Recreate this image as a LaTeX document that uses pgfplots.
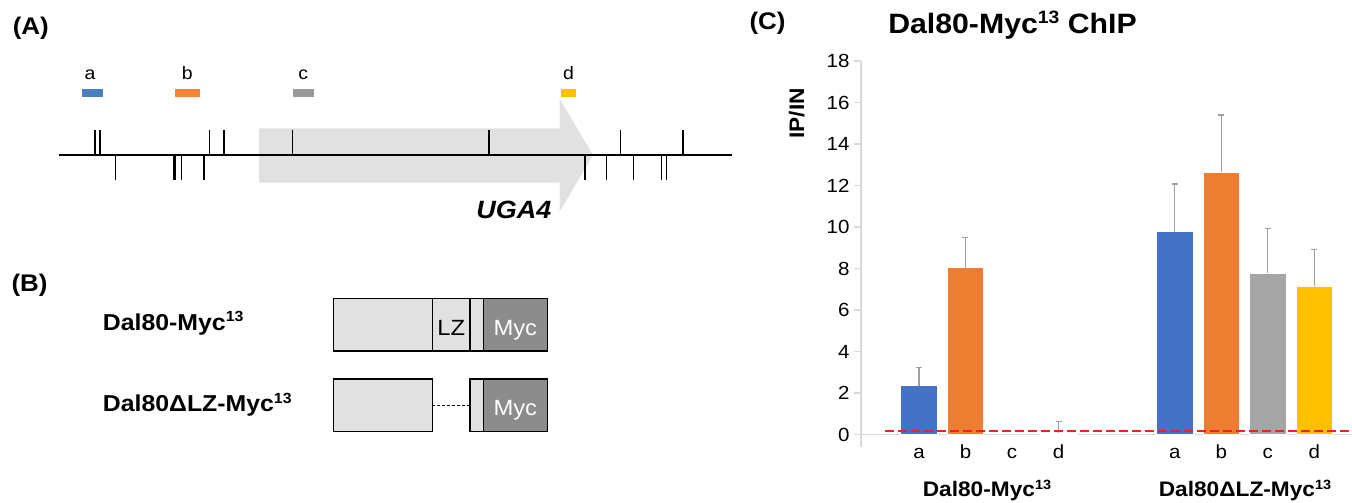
\documentclass[border=0pt]{standalone}
\usepackage{pgfplots}
\pgfplotsset{compat=1.18}
\usepackage{fontspec}
\setmainfont[FakeStretch=1.08]{Liberation Sans}
\definecolor{cblue}{HTML}{4472C4}
\definecolor{corange}{HTML}{ED7D31}
\definecolor{cgray}{HTML}{A5A5A5}
\definecolor{cyellow}{HTML}{FFC000}
\definecolor{mblue}{HTML}{4A7EBF}
\definecolor{morange}{HTML}{F5853A}
\definecolor{mgray}{HTML}{999999}
\definecolor{axgray}{HTML}{D9D9D9}
\definecolor{errgray}{HTML}{A0A0A0}
\definecolor{boxgray}{HTML}{E1E1E1}
\definecolor{mycgray}{HTML}{8C8C8C}
\definecolor{redline}{HTML}{F02020}
\newcommand{\fs}[1]{\fontsize{#1}{#1}\selectfont}
\newcommand{\sups}[1]{\raisebox{0.36em}{\scalebox{0.64}{#1}}}
\pgfplotsset{
  mybar/.style={ybar, bar width=36.5pt, bar shift=0pt, draw=white, line width=0.5pt,
    error bars/.cd, y dir=plus, y explicit,
    error bar style={draw=errgray, line width=1.4pt},
    error mark=-,
    error mark options={draw=errgray, line width=1.4pt, mark size=3pt, rotate=90}},
}
\begin{document}
\begin{tikzpicture}
\useasboundingbox (0,0) rectangle (1352pt,503pt);
% ---------- canvas for panels A, B and texts (pixel coordinates, y downwards)
\begin{axis}[at={(0pt,0pt)}, anchor=south west, scale only axis,
  width=1352pt, height=503pt, xmin=0, xmax=1352, ymin=0, ymax=503,
  y dir=reverse, hide axis, clip=false]
% Panel A
\node[font={\fs{24}\bfseries}] at (30.8,28) {(A)};
\fill[boxgray] (259,128.3) -- (559.7,128.3) -- (559.7,99) -- (593,155) -- (559.7,211.7) -- (559.7,182.7) -- (259,182.7) -- cycle;
\draw[line width=1.6pt] (59,155) -- (731.8,155);
\pgfplotsinvokeforeach{95,100,209.3,224,292.3,489,620.4,683}{\draw[line width=1.2pt] (#1,130) -- (#1,155);}
\pgfplotsinvokeforeach{115.3,181.3,204,585,606.5,633.8,661.5,666.3}{\draw[line width=1.2pt] (#1,155) -- (#1,180);}
\draw[line width=3.3pt] (174.4,155) -- (174.4,180);
\fill[mblue] (81.7,89.3) rectangle (102.7,97.3);
\fill[morange] (175,89.3) rectangle (200,97.3);
\fill[mgray] (292.7,89.3) rectangle (314,97.3);
\fill[cyellow] (560.6,89.3) rectangle (576.4,97.3);
\node[anchor=base, font=\fs{18}] at (90,80) {a};
\node[anchor=base, font=\fs{18}] at (187.3,80) {b};
\node[anchor=base, font=\fs{18}] at (303.3,80) {c};
\node[anchor=base, font=\fs{18}] at (568.4,80) {d};
\node[anchor=base, font={\fs{25}\bfseries\itshape}] at (514,218) {UGA4};
% Panel B
\node[font={\fs{24}\bfseries}] at (29.6,285) {(B)};
\node[anchor=base west, inner sep=0pt, font={\fs{23}\bfseries}] at (102.7,330) {Dal80-Myc\sups{13}};
\node[anchor=base west, inner sep=0pt, font={\fs{23}\bfseries}] at (102.7,411.7) {Dal80ΔLZ-Myc\sups{13}};
\draw[line width=1.5pt, fill=boxgray] (333.3,298.3) rectangle (432.3,351);
\draw[line width=1.5pt, fill=boxgray] (432.3,298.3) rectangle (470,351);
\draw[line width=1.5pt, fill=boxgray] (470,298.3) rectangle (483.3,351);
\draw[line width=1.5pt, fill=mycgray] (483.3,298.3) rectangle (547.3,351);
\node[anchor=base, font=\fs{22}] at (451.2,335) {LZ};
\node[anchor=base, font=\fs{22}, text=white] at (515.3,335) {Myc};
\draw[line width=1.5pt, fill=boxgray] (333.3,379) rectangle (432.3,431.7);
\draw[line width=1.2pt, dash pattern=on 3pt off 2pt] (432.3,405.4) -- (470,405.4);
\draw[line width=1.5pt, fill=boxgray] (470,379) rectangle (483.3,431.7);
\draw[line width=1.5pt, fill=mycgray] (483.3,379) rectangle (547.3,431.7);
\node[anchor=base, font=\fs{22}, text=white] at (515.3,415.7) {Myc};
% Panel C texts
\node[font={\fs{24}\bfseries}] at (767.5,23.3) {(C)};
\node[anchor=base, font={\fs{28}\bfseries}] at (1012.5,33.3) {Dal80-Myc\sups{13} ChIP};
\node[rotate=90, font={\fs{21}\bfseries}] at (796.7,113.3) {IP/IN};
\node[anchor=base, font={\fs{21}\bfseries}] at (987,496.7) {Dal80-Myc\sups{13}};
\node[anchor=base, font={\fs{21}\bfseries}] at (1245,496.7) {Dal80ΔLZ-Myc\sups{13}};
\end{axis}
% ---------- chart
\begin{axis}[at={(861pt,56.3pt)}, anchor=south west, scale only axis,
  width=491pt, height=385.5pt,
  xmin=-1.247, xmax=9.312, ymin=-0.58, ymax=18,
  axis x line=middle, axis y line=left,
  hide obscured x ticks=false, hide obscured y ticks=false,
  axis line style={draw=axgray, line width=1.5pt, -},
  ytick={0,2,...,18},
  xtick={0,1,2,3,5.5,6.5,7.5,8.5}, xticklabels={a,b,c,d,a,b,c,d},
  tick align=outside, major tick length=7pt,
  ytick style={draw=axgray, line width=1.5pt},
  xtick style={draw=none},
  yticklabel style={font=\fs{19}, xshift=-1pt},
  xticklabel style={font=\fs{19}, anchor=base, yshift=-17pt},
  /pgf/number format/assume math mode=true,
  clip=false]
\addplot[fill=cblue, mybar] coordinates {(0,2.36) +- (0,0.89) (5.5,9.78) +- (0,2.30)};
\addplot[fill=corange, mybar] coordinates {(1,8.05) +- (0,1.45) (6.5,12.64) +- (0,2.77)};
\addplot[fill=cgray, mybar] coordinates {(7.5,7.78) +- (0,2.17)};
\addplot[fill=cyellow, mybar] coordinates {(3,0.08) +- (0,0.55) (8.5,7.17) +- (0,1.76)};
\addplot[sharp plot, draw=redline, line width=1.8pt, dash pattern=on 8.5pt off 4.5pt, mark=none] coordinates {(-0.731,0.16) (9.312,0.16)};
\end{axis}
\end{tikzpicture}
\end{document}
